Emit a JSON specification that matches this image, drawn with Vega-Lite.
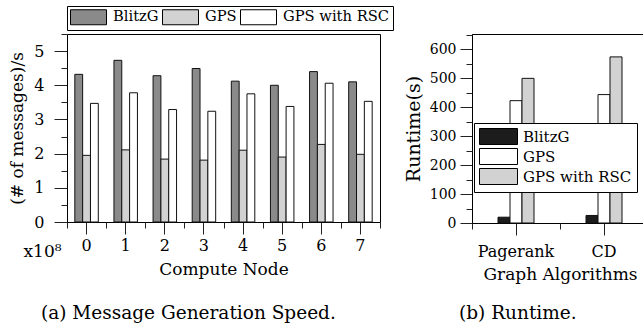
{
  "$schema": "https://vega.github.io/schema/vega-lite/v6.json",
  "padding": {"left": 8, "top": 5, "right": 0, "bottom": 0},
  "config": {
    "font": "DejaVu Serif",
    "view": {"stroke": "black", "strokeWidth": 1},
    "axis": {"domainColor": "black", "tickColor": "#222", "labelColor": "black", "titleColor": "black", "labelFont": "DejaVu Serif", "titleFont": "DejaVu Serif", "titleFontWeight": "normal", "grid": false},
    "legend": {"labelFont": "DejaVu Serif", "labelColor": "black"},
    "title": {"font": "DejaVu Serif", "fontWeight": "normal", "color": "black"}
  },
  "datasets": {
    "speed": [
      {"node": "0", "system": "BlitzG", "value": 4.32},
      {"node": "0", "system": "GPS", "value": 1.95},
      {"node": "0", "system": "GPS with RSC", "value": 3.47},
      {"node": "1", "system": "BlitzG", "value": 4.73},
      {"node": "1", "system": "GPS", "value": 2.11},
      {"node": "1", "system": "GPS with RSC", "value": 3.78},
      {"node": "2", "system": "BlitzG", "value": 4.28},
      {"node": "2", "system": "GPS", "value": 1.84},
      {"node": "2", "system": "GPS with RSC", "value": 3.29},
      {"node": "3", "system": "BlitzG", "value": 4.49},
      {"node": "3", "system": "GPS", "value": 1.81},
      {"node": "3", "system": "GPS with RSC", "value": 3.24},
      {"node": "4", "system": "BlitzG", "value": 4.12},
      {"node": "4", "system": "GPS", "value": 2.10},
      {"node": "4", "system": "GPS with RSC", "value": 3.75},
      {"node": "5", "system": "BlitzG", "value": 4.00},
      {"node": "5", "system": "GPS", "value": 1.90},
      {"node": "5", "system": "GPS with RSC", "value": 3.38},
      {"node": "6", "system": "BlitzG", "value": 4.40},
      {"node": "6", "system": "GPS", "value": 2.27},
      {"node": "6", "system": "GPS with RSC", "value": 4.06},
      {"node": "7", "system": "BlitzG", "value": 4.10},
      {"node": "7", "system": "GPS", "value": 1.98},
      {"node": "7", "system": "GPS with RSC", "value": 3.53}
    ],
    "runtime": [
      {"algorithm": "Pagerank", "system": "BlitzG", "value": 20},
      {"algorithm": "Pagerank", "system": "GPS", "value": 422},
      {"algorithm": "Pagerank", "system": "GPS with RSC", "value": 499},
      {"algorithm": "CD", "system": "BlitzG", "value": 26},
      {"algorithm": "CD", "system": "GPS", "value": 443},
      {"algorithm": "CD", "system": "GPS with RSC", "value": 573}
    ]
  },
  "bounds": "flush",
  "spacing": 92,
  "hconcat": [
    {
      "width": 313,
      "height": 188,
      "data": {"name": "speed"},
      "title": {"text": "(a) Message Generation Speed.", "orient": "bottom", "anchor": "start", "frame": "group", "dx": -26, "offset": 27, "fontSize": 18.5},
      "layer": [
        {
          "mark": {"type": "bar", "stroke": "#111", "strokeWidth": 1},
          "encoding": {
            "x": {"field": "node", "type": "ordinal", "scale": {"paddingInner": 0, "paddingOuter": 0},
                  "axis": {"title": "Compute Node", "labelAngle": 0, "tickSize": 12, "labelPadding": 3, "labelFontSize": 16, "titleFontSize": 17, "titlePadding": 8, "orient": "bottom"}},
            "xOffset": {"field": "system", "sort": ["BlitzG", "GPS", "GPS with RSC"], "scale": {"paddingInner": 0, "paddingOuter": 1}},
            "y": {"field": "value", "type": "quantitative", "scale": {"domain": [0, 5.5], "nice": false},
                  "axis": {"values": [0, 1, 2, 3, 4, 5], "tickSize": 13, "labelPadding": 10, "labelFontSize": 16, "title": "(# of messages)/s", "titleFontSize": 17, "titlePadding": 7, "orient": "left"}},
            "color": {"field": "system", "type": "nominal",
                      "scale": {"domain": ["BlitzG", "GPS", "GPS with RSC"], "range": ["#8a8a8a", "#d2d2d2", "#ffffff"]},
                      "legend": {"title": null, "orient": "none", "legendX": 0, "legendY": -28, "direction": "horizontal",
                                 "symbolType": "M-1,-1H3.8V1H-1Z", "symbolSize": 225, "symbolStrokeColor": "black", "symbolStrokeWidth": 1,
                                 "labelFontSize": 14.7, "labelOffset": 27, "columnPadding": 1, "padding": 3,
                                 "strokeColor": "black", "fillColor": "white"}}
          }
        },
        {
          "mark": {"type": "bar", "opacity": 0},
          "encoding": {
            "x": {"field": "node", "type": "ordinal", "scale": {"paddingInner": 0, "paddingOuter": 0},
                  "axis": {"orient": "bottom", "tickBand": "extent", "labels": false, "domain": false, "tickSize": 6, "title": null}},
            "xOffset": {"field": "system", "sort": ["BlitzG", "GPS", "GPS with RSC"], "scale": {"paddingInner": 0, "paddingOuter": 1}},
            "y": {"field": "value", "type": "quantitative",
                  "axis": {"orient": "left", "values": [0.5, 1.5, 2.5, 3.5, 4.5, 5.5], "labels": false, "domain": false, "tickSize": 6,
                           "title": "x10⁸", "titleAngle": 0, "titleX": -44, "titleY": 222, "titleAlign": "left", "titleBaseline": "alphabetic", "titleFontSize": 17}}
          }
        }
      ],
      "resolve": {"axis": {"x": "independent", "y": "independent"}}
    },
    {
      "width": 176,
      "height": 189,
      "data": {"name": "runtime"},
      "title": {"text": "(b) Runtime.", "orient": "bottom", "anchor": "start", "frame": "group", "dx": -13, "offset": 22, "fontSize": 18.5},
      "layer": [
        {
          "mark": {"type": "bar", "stroke": "#111", "strokeWidth": 1},
          "encoding": {
            "x": {"field": "algorithm", "type": "nominal", "sort": ["Pagerank", "CD"], "scale": {"paddingInner": 0, "paddingOuter": 0},
                  "axis": {"title": "Graph Algorithms", "labelAngle": 0, "tickSize": 12, "labelPadding": 8, "labelFontSize": 16, "titleFontSize": 17, "titlePadding": 7, "orient": "bottom"}},
            "xOffset": {"field": "system", "sort": ["BlitzG", "GPS", "GPS with RSC"], "scale": {"paddingInner": 0, "paddingOuter": 0, "range": [26, 62]}},
            "y": {"field": "value", "type": "quantitative", "scale": {"domain": [0, 652], "nice": false},
                  "axis": {"values": [0, 100, 200, 300, 400, 500, 600], "tickSize": 12, "labelPadding": 4, "labelFontSize": 14, "title": "Runtime(s)", "titleFontSize": 19, "titlePadding": 6, "orient": "left"}},
            "color": {"field": "system", "type": "nominal",
                      "scale": {"domain": ["BlitzG", "GPS", "GPS with RSC"], "range": ["#1c1c1c", "#ffffff", "#d2d2d2"]},
                      "legend": {"title": null, "orient": "none", "legendX": 2, "legendY": 89, "direction": "vertical",
                                 "symbolType": "M-1,-1H3.75V1H-1Z", "symbolSize": 256, "symbolStrokeColor": "black", "symbolStrokeWidth": 1,
                                 "labelFontSize": 15, "labelOffset": 27, "rowPadding": -1, "padding": 5,
                                 "strokeColor": "black", "fillColor": "white"}}
          }
        },
        {
          "mark": {"type": "bar", "opacity": 0},
          "encoding": {
            "x": {"field": "algorithm", "type": "nominal", "sort": ["Pagerank", "CD"], "scale": {"paddingInner": 0, "paddingOuter": 0},
                  "axis": {"orient": "bottom", "tickBand": "extent", "labels": false, "domain": false, "tickSize": 6, "title": null}},
            "xOffset": {"field": "system", "sort": ["BlitzG", "GPS", "GPS with RSC"], "scale": {"paddingInner": 0, "paddingOuter": 0, "range": [26, 62]}},
            "y": {"field": "value", "type": "quantitative",
                  "axis": {"orient": "left", "values": [50, 150, 250, 350, 450, 550, 650], "labels": false, "domain": false, "tickSize": 6, "title": null}}
          }
        }
      ],
      "resolve": {"axis": {"x": "independent", "y": "independent"}}
    }
  ],
  "resolve": {"scale": {"color": "independent", "xOffset": "independent", "x": "independent", "y": "independent"}, "legend": {"color": "independent"}}
}
